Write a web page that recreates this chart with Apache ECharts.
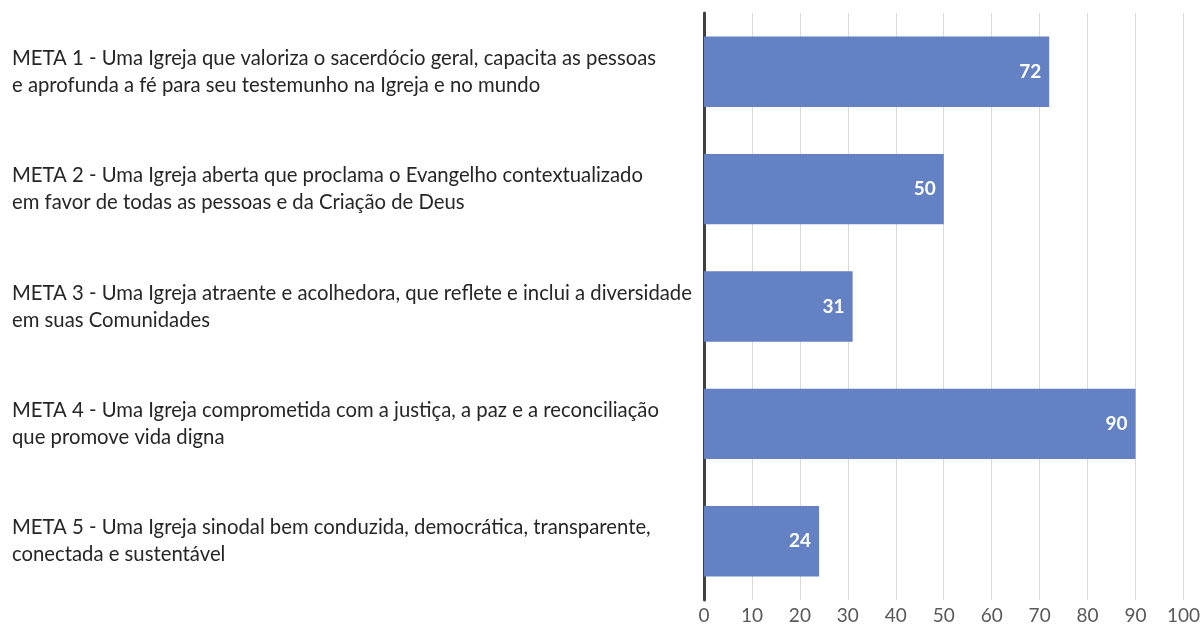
<!DOCTYPE html>
<html>
<head>
<meta charset="utf-8">
<script src="https://cdn.jsdelivr.net/npm/echarts@6/dist/echarts.min.js"></script>
<style>
  html, body { margin: 0; padding: 0; background: #ffffff; }
  #chart { width: 1203px; height: 630px; }
</style>
</head>
<body>
<div id="chart"></div>
<script>
// Goals (top to bottom) and how many mentions each received
const categories = [
  'META 1 - Uma Igreja que valoriza o sacerdócio geral, capacita as pessoas\ne aprofunda a fé para seu testemunho na Igreja e no mundo',
  'META 2 - Uma Igreja aberta que proclama o Evangelho contextualizado\nem favor de todas as pessoas e da Criação de Deus',
  'META 3 - Uma Igreja atraente e acolhedora, que reflete e inclui a diversidade\nem suas Comunidades',
  'META 4 - Uma Igreja comprometida com a justiça, a paz e a reconciliação\nque promove vida digna',
  'META 5 - Uma Igreja sinodal bem conduzida, democrática, transparente,\nconectada e sustentável'
];
const values = [72, 50, 31, 90, 24];
const xTicks = [0, 10, 20, 30, 40, 50, 60, 70, 80, 90, 100];

const FONT = 'Lato, "Open Sans", sans-serif';
const chart = echarts.init(document.getElementById('chart'), null, { renderer: 'canvas' });

chart.setOption({
  animation: false,
  backgroundColor: '#ffffff',
  grid: { left: 704, right: 19, top: 13, bottom: 30, containLabel: false },
  xAxis: {
    type: 'value',
    min: xTicks[0],
    max: xTicks[xTicks.length - 1],
    interval: xTicks[1] - xTicks[0],
    axisLine: { show: false },
    axisTick: { show: false },
    splitLine: { show: true, lineStyle: { color: '#d9d9d9', width: 1 } },
    axisLabel: { color: '#595959', fontSize: 19, fontFamily: FONT, margin: 6 }
  },
  yAxis: {
    type: 'category',
    data: categories,
    inverse: true,
    axisLine: { show: true, lineStyle: { color: '#404040', width: 3 } },
    axisTick: { show: false },
    axisLabel: {
      align: 'left',
      margin: 692,
      color: '#262626',
      fontSize: 20.3,
      lineHeight: 27,
      fontFamily: FONT
    }
  },
  series: [{
    type: 'bar',
    data: values,
    barCategoryGap: '40%',
    itemStyle: { color: '#6381c3' },
    label: {
      show: true,
      position: 'insideRight',
      distance: 8,
      color: '#ffffff',
      fontWeight: 'bold',
      fontSize: 19,
      fontFamily: FONT
    }
  }]
});
</script>
</body>
</html>
